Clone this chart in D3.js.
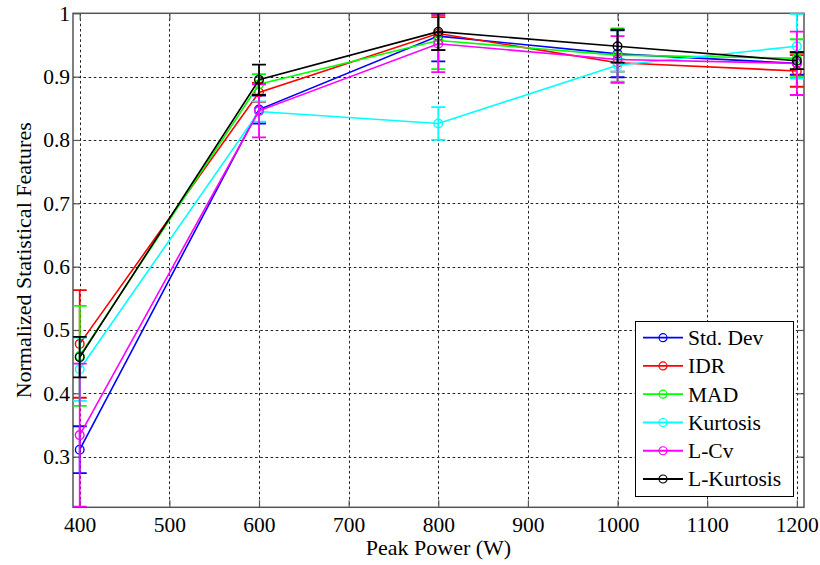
<!DOCTYPE html>
<html>
<head>
<meta charset="utf-8">
<script src="https://cdn.jsdelivr.net/npm/d3@7"></script>
<style>
  html, body { margin: 0; padding: 0; background: #fff; }
  svg { display: block; }
  text { font-family: "Liberation Serif", "Times New Roman", serif; fill: #000; }
</style>
</head>
<body>
<svg id="chart" width="820" height="565"></svg>
<script>
// Peak power levels (W)
const peakPower = [400, 600, 800, 1000, 1200];

// Series names and colours
const seriesNames = ["Std. Dev", "IDR", "MAD", "Kurtosis", "L-Cv", "L-Kurtosis"];
const seriesColors = ["#0000ff", "#ff0000", "#00ff00", "#00ffff", "#ff00ff", "#000000"];

// Mean normalized feature values at each peak power
const stdDevMean    = [0.311, 0.848, 0.964, 0.936, 0.921];
const idrMean       = [0.478, 0.875, 0.968, 0.922, 0.909];
const madMean       = [0.459, 0.888, 0.957, 0.934, 0.929];
const kurtosisMean  = [0.438, 0.845, 0.826, 0.918, 0.948];
const lCvMean       = [0.334, 0.846, 0.952, 0.927, 0.921];
const lKurtosisMean = [0.457, 0.895, 0.971, 0.948, 0.925];

// Error bar half-lengths
const stdDevErr    = [0.037, 0.022, 0.040, 0.037, 0.018];
const idrErr       = [0.085, 0.015, 0.026, 0.014, 0.025];
const madErr       = [0.079, 0.016, 0.045, 0.042, 0.030];
const kurtosisErr  = [0.050, 0.016, 0.026, 0.010, 0.051];
const lCvErr       = [0.113, 0.042, 0.045, 0.037, 0.050];
const lKurtosisErr = [0.032, 0.024, 0.029, 0.026, 0.013];

// Tick values
const xTicks = [400, 500, 600, 700, 800, 900, 1000, 1100, 1200];
const yTicks = [0.3, 0.4, 0.5, 0.6, 0.7, 0.8, 0.9, 1];

const means = [stdDevMean, idrMean, madMean, kurtosisMean, lCvMean, lKurtosisMean];
const errs  = [stdDevErr, idrErr, madErr, kurtosisErr, lCvErr, lKurtosisErr];

const series = seriesNames.map((name, i) => ({
  name,
  color: seriesColors[i],
  points: peakPower.map((p, j) => ({ x: p, y: means[i][j], e: errs[i][j] }))
}));

// Layout of the axes box
const plotLeft = 73, plotRight = 804, plotTop = 13.3, plotBottom = 507.3;

const x = d3.scaleLinear().domain([392.5, 1208]).range([plotLeft, plotRight]);
const y = d3.scaleLinear().domain([0.22, 1]).range([plotBottom, plotTop]);

const svg = d3.select("#chart");

svg.append("defs").append("clipPath").attr("id", "plotClip")
  .append("rect")
  .attr("x", plotLeft).attr("y", plotTop)
  .attr("width", plotRight - plotLeft).attr("height", plotBottom - plotTop);

// Grid
const grid = svg.append("g").attr("class", "grid")
  .attr("stroke", "#222").attr("stroke-width", 1)
  .attr("stroke-dasharray", "2.6,2.6");

grid.selectAll("line.vx").data(xTicks).join("line")
  .attr("class", "vx")
  .attr("x1", d => Math.round(x(d)) + 0.5).attr("x2", d => Math.round(x(d)) + 0.5)
  .attr("y1", plotTop).attr("y2", plotBottom);

grid.selectAll("line.hy").data(yTicks.filter(d => d < 1)).join("line")
  .attr("class", "hy")
  .attr("y1", d => Math.round(y(d)) + 0.5).attr("y2", d => Math.round(y(d)) + 0.5)
  .attr("x1", plotLeft).attr("x2", plotRight);

// Axes (inward ticks)
const fmtX = d3.format("d");
const fmtY = d => (d === 1 ? "1" : d3.format(".1f")(d));

const xAxis = svg.append("g").attr("transform", `translate(0,${plotBottom})`)
  .call(d3.axisBottom(x).tickValues(xTicks).tickSizeInner(-7).tickSizeOuter(0).tickPadding(9).tickFormat(fmtX));
const xAxisTop = svg.append("g").attr("transform", `translate(0,${plotTop})`)
  .call(d3.axisTop(x).tickValues(xTicks).tickSizeInner(-7).tickSizeOuter(0).tickFormat(""));
const yAxis = svg.append("g").attr("transform", `translate(${plotLeft},0)`)
  .call(d3.axisLeft(y).tickValues(yTicks).tickSizeInner(-7).tickSizeOuter(0).tickPadding(3).tickFormat(fmtY));
const yAxisRight = svg.append("g").attr("transform", `translate(${plotRight},0)`)
  .call(d3.axisRight(y).tickValues(yTicks).tickSizeInner(-7).tickSizeOuter(0).tickFormat(""));

[xAxis, xAxisTop, yAxis, yAxisRight].forEach(g => {
  g.select(".domain").remove();
  g.selectAll(".tick line").attr("stroke", "#555").attr("stroke-width", 1.2);
  g.selectAll(".tick text")
    .style("font-family", '"Liberation Serif", "Times New Roman", serif')
    .style("font-size", "21.5px")
    .attr("fill", "#000");
});

// Axis frame
svg.append("rect")
  .attr("x", plotLeft).attr("y", plotTop)
  .attr("width", plotRight - plotLeft).attr("height", plotBottom - plotTop)
  .attr("fill", "none").attr("stroke", "#555").attr("stroke-width", 1.5);

// Series: connecting line, error bars, circle markers
const plot = svg.append("g").attr("clip-path", "url(#plotClip)");
const lineGen = d3.line().x(d => x(d.x)).y(d => y(d.y));
const capHalf = 7;

series.forEach(s => {
  const g = plot.append("g").attr("stroke", s.color).attr("fill", "none");
  g.append("path").datum(s.points).attr("d", lineGen).attr("stroke-width", 1.6);

  const eb = g.append("g").attr("stroke-width", 1.8);
  eb.selectAll("line.v").data(s.points).join("line").attr("class", "v")
    .attr("x1", d => x(d.x)).attr("x2", d => x(d.x))
    .attr("y1", d => y(d.y - d.e)).attr("y2", d => y(d.y + d.e));
  eb.selectAll("line.ct").data(s.points).join("line").attr("class", "ct")
    .attr("x1", d => x(d.x) - capHalf).attr("x2", d => x(d.x) + capHalf)
    .attr("y1", d => y(d.y + d.e)).attr("y2", d => y(d.y + d.e));
  eb.selectAll("line.cb").data(s.points).join("line").attr("class", "cb")
    .attr("x1", d => x(d.x) - capHalf).attr("x2", d => x(d.x) + capHalf)
    .attr("y1", d => y(d.y - d.e)).attr("y2", d => y(d.y - d.e));

  g.selectAll("circle").data(s.points).join("circle")
    .attr("cx", d => x(d.x)).attr("cy", d => y(d.y))
    .attr("r", 4.3).attr("stroke-width", 1.4);
});

// Axis titles
svg.append("text")
  .attr("x", (plotLeft + plotRight) / 2).attr("y", 555)
  .attr("text-anchor", "middle")
  .style("font-size", "22px")
  .text("Peak Power (W)");

svg.append("text")
  .attr("transform", `translate(31,${(plotTop + plotBottom) / 2}) rotate(-90)`)
  .attr("text-anchor", "middle")
  .style("font-size", "22px")
  .text("Normalized Statistical Features");

// Legend
const legend = svg.append("g");
legend.append("rect")
  .attr("x", 635.5).attr("y", 321.5).attr("width", 158).attr("height", 175)
  .attr("fill", "#fff").attr("stroke", "#000").attr("stroke-width", 1);

const rowY = i => 337.7 + i * 28.26;
const rows = legend.selectAll("g.row").data(series).join("g").attr("class", "row")
  .attr("transform", (d, i) => `translate(0,${rowY(i)})`);
rows.append("line")
  .attr("x1", 643).attr("x2", 683).attr("y1", 0).attr("y2", 0)
  .attr("stroke", d => d.color).attr("stroke-width", 1.8);
rows.append("circle")
  .attr("cx", 663).attr("cy", 0).attr("r", 4)
  .attr("fill", "none").attr("stroke", d => d.color).attr("stroke-width", 1.2);
rows.append("text")
  .attr("x", 688).attr("y", 0).attr("dy", "0.34em")
  .style("font-size", "21.5px")
  .text(d => d.name);
</script>
</body>
</html>
